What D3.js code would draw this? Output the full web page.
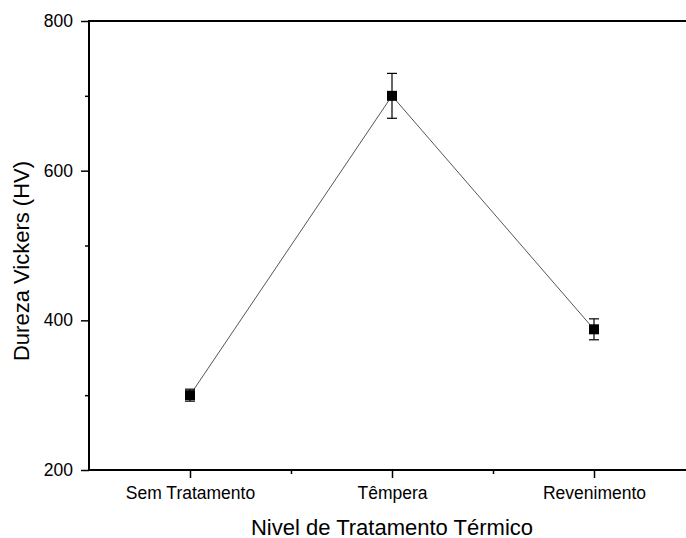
<!DOCTYPE html>
<html><head><meta charset="utf-8">
<script src="https://cdn.jsdelivr.net/npm/d3@7"></script>
<style>body{margin:0;background:#fff}svg{display:block}text{font-family:"Liberation Sans",Arial,sans-serif;fill:#000}</style>
</head><body>
<svg id="c" width="686" height="538"></svg>
<script>
const categories = ["Sem Tratamento", "Têmpera", "Revenimento"];
const hardness = [300, 700, 388];
const errors = [8, 30, 14];
const yTicks = [200, 400, 600, 800];
const yMinor = [300, 500, 700];
const xMinor = [1.5, 2.5];
const xTitle = "Nivel de Tratamento Térmico";
const yTitle = "Dureza Vickers (HV)";

(function(){
const svg = d3.select("#c");
const mL = 89, mR = 695, mT = 21, mB = 470;
const x = d3.scaleLinear().domain([0.5, 3.5]).range([mL, mR]);
const y = d3.scaleLinear().domain([200, 800]).range([mB, mT]);

svg.append("rect").attr("x", mL).attr("y", mT).attr("width", mR-mL).attr("height", mB-mT)
  .attr("fill", "none").attr("stroke", "#000").attr("stroke-width", 2);

const yAx = svg.append("g").attr("transform", `translate(${mL},0)`)
  .call(d3.axisLeft(y).tickValues(yTicks).tickSize(8).tickPadding(8).tickFormat(d3.format("d")));
yAx.select(".domain").remove();
yAx.selectAll(".tick line").attr("stroke-width", 1.5);
yAx.selectAll("text").style("font-size", "17.5px").style("font-family", "Liberation Sans, Arial, sans-serif");
const yAxM = svg.append("g").attr("transform", `translate(${mL},0)`)
  .call(d3.axisLeft(y).tickValues(yMinor).tickSize(4).tickFormat(""));
yAxM.select(".domain").remove();
yAxM.selectAll(".tick line").attr("stroke-width", 1.5);

const xAx = svg.append("g").attr("transform", `translate(0,${mB})`)
  .call(d3.axisBottom(x).tickValues([1,2,3]).tickSize(8).tickPadding(9).tickFormat((d,i)=>categories[i]));
xAx.select(".domain").remove();
xAx.selectAll(".tick line").attr("stroke-width", 1.5);
xAx.selectAll("text").style("font-size", "17.5px").style("font-family", "Liberation Sans, Arial, sans-serif");
const xAxM = svg.append("g").attr("transform", `translate(0,${mB})`)
  .call(d3.axisBottom(x).tickValues(xMinor).tickSize(4).tickFormat(""));
xAxM.select(".domain").remove();
xAxM.selectAll(".tick line").attr("stroke-width", 1.5);

svg.append("text").attr("x", (mL+mR)/2).attr("y", 534.5).attr("text-anchor", "middle")
  .style("font-size", "22px").text(xTitle);
svg.append("text").attr("transform", `translate(29,261) rotate(-90)`).attr("text-anchor", "middle")
  .style("font-size", "22px").text(yTitle);

const data = categories.map((c,i)=>({i:i+1, v:hardness[i], e:errors[i]}));

svg.append("path").datum(data)
  .attr("d", d3.line().x(d=>x(d.i)).y(d=>y(d.v)))
  .attr("fill", "none").attr("stroke", "#555").attr("stroke-width", 1);

const eb = svg.append("g").attr("stroke", "#000").attr("stroke-width", 1.2);
data.forEach(d=>{
  const cx = x(d.i);
  eb.append("line").attr("x1", cx).attr("x2", cx).attr("y1", y(d.v+d.e)).attr("y2", y(d.v-d.e));
  eb.append("line").attr("x1", cx-5).attr("x2", cx+5).attr("y1", y(d.v+d.e)).attr("y2", y(d.v+d.e));
  eb.append("line").attr("x1", cx-5).attr("x2", cx+5).attr("y1", y(d.v-d.e)).attr("y2", y(d.v-d.e));
});

svg.append("g").selectAll("rect").data(data).join("rect")
  .attr("x", d=>x(d.i)-5).attr("y", d=>y(d.v)-5).attr("width", 10).attr("height", 10).attr("fill", "#000");
})();
</script>
</body></html>
